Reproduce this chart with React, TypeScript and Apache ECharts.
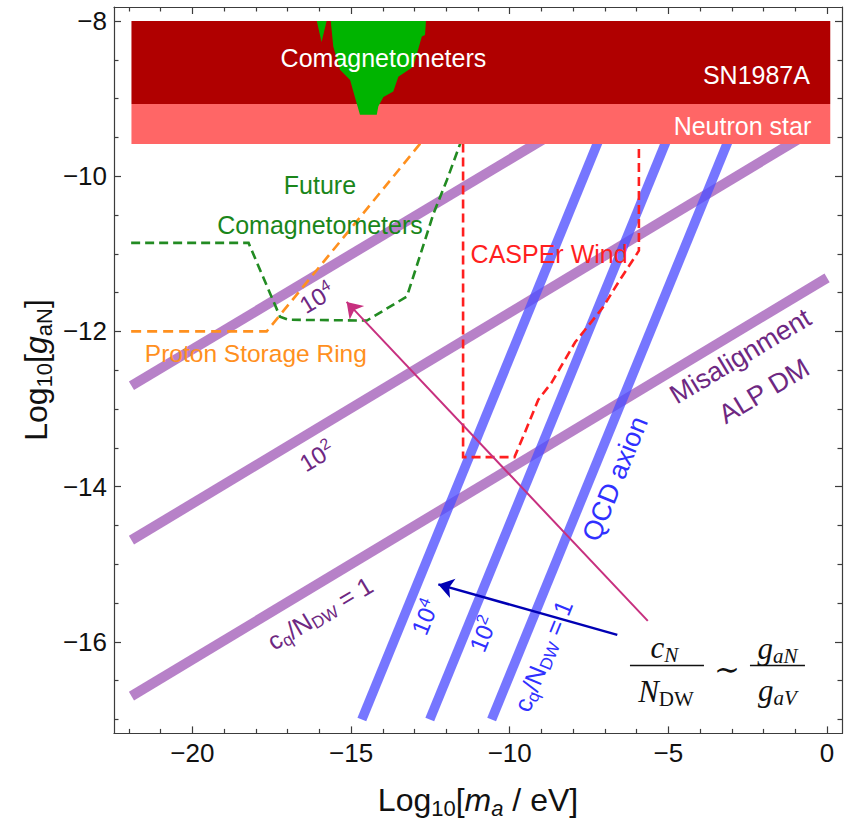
import React, { useEffect, useRef } from 'react';
import * as echarts from 'echarts';

// ---------- axes ----------
const X_MIN = -22.47;
const X_MAX = 0.47;
const Y_MIN = -17.18;
const Y_MAX = -7.82;
const xMajorTicks = [-20, -15, -10, -5, 0];
const xMinorTicks = [-22, -21, -19, -18, -17, -16, -14, -13, -12, -11, -9, -8, -7, -6, -4, -3, -2, -1];
const yMajorTicks = [-16, -14, -12, -10, -8];
const yMinorTicks = [-17, -16.5, -15.5, -15, -14.5, -13.5, -13, -12.5, -11.5, -11, -10.5, -9.5, -9, -8.5];

// ---------- misalignment ALP DM lines (c_q/N_DW = 10^4, 10^2, 1) ----------
const alp4X = [-21.92, -7.0];
const alp4Y = [-12.70, -9.05];
const alp2X = [-21.92, 0.0];
const alp2Y = [-14.69, -9.30];
const alp1X = [-21.92, 0.0];
const alp1Y = [-16.70, -11.31];

// ---------- QCD axion lines (10^4, 10^2, 1) ----------
const qcd4X = [-14.66, -6.66];
const qcd4Y = [-17.0, -9.0];
const qcd2X = [-12.52, -4.52];
const qcd2Y = [-17.0, -9.0];
const qcd1X = [-10.57, -2.57];
const qcd1Y = [-17.0, -9.0];

// ---------- projected sensitivities (dashed) ----------
const futureX = [-21.93, -18.23, -17.24, -16.97, -14.50, -13.24, -12.40, -11.98, -11.56];
const futureY = [-10.86, -10.86, -11.81, -11.85, -11.86, -11.55, -10.48, -10.05, -9.58];
const protonX = [-21.93, -17.66, -12.82];
const protonY = [-12.0, -12.0, -9.58];
const casperX = [-11.47, -11.47, -9.85, -9.53, -9.10, -8.68, -7.94, -7.08, -6.55, -6.07, -5.93, -5.93];
const casperY = [-9.58, -13.62, -13.62, -13.31, -12.88, -12.66, -12.14, -11.70, -11.35, -11.05, -10.96, -9.58];

// ---------- excluded regions ----------
const nsX = [-21.92, 0.1, 0.1, -21.92];
const nsY = [-9.585, -9.585, -9.07, -9.07];
const snX = [-21.92, 0.1, 0.1, -21.92];
const snY = [-9.07, -9.07, -8.0, -8.0];
const comagX = [-16.08, -15.93, -15.77, -15.64, -15.56, -15.35, -15.03, -14.88, -14.72, -14.19, -14.14, -13.98, -13.67, -13.51, -13.04, -12.77, -12.67, -12.64];
const comagY = [-8.0, -8.27, -8.0, -8.0, -8.33, -8.63, -8.76, -8.98, -9.21, -9.21, -9.10, -8.98, -8.91, -8.72, -8.59, -8.20, -8.18, -8.0];

// ---------- arrows ----------
const arrowMagentaX = [-5.65, -15.14];
const arrowMagentaY = [-15.73, -11.62];
const arrowBlueX = [-6.61, -12.25];
const arrowBlueY = [-15.91, -15.26];

// ---------- styles ----------
const SANS = '"Liberation Sans", Arial, Helvetica, sans-serif';
const SERIF = '"Liberation Serif", "DejaVu Serif", "Times New Roman", serif';
const FRAME = '#3c3c3c';
const PURPLE_BAND = '#b781c8';
const PURPLE_TEXT = '#6e2882';
const BLUE_BAND = 'rgba(80,80,255,0.78)';
const BLUE_TEXT = '#3030ff';
const GREEN_DASH = '#228b22';
const GREEN_TEXT = '#1a861a';
const ORANGE = '#ff901e';
const RED = '#ff1f1f';

const zip = (xs: number[], ys: number[]) => xs.map((x, i) => [x, ys[i]]);

function lineSeries(xs: number[], ys: number[], color: string, width: number, z: number, dash?: number[]) {
  return {
    type: 'line',
    data: zip(xs, ys),
    symbol: 'none',
    silent: true,
    z,
    lineStyle: { color, width, cap: 'butt', join: 'miter', type: dash ? dash : 'solid' },
  };
}

function polySeries(xs: number[], ys: number[], color: string, z: number) {
  return {
    type: 'custom',
    silent: true,
    z,
    data: [[xs[0], ys[0]]],
    renderItem: (_p: any, api: any) => ({
      type: 'polygon',
      shape: { points: xs.map((x, i) => api.coord([x, ys[i]])) },
      style: { fill: color, stroke: null },
    }),
  };
}

function arrowSeries(xs: number[], ys: number[], color: string, width: number) {
  return {
    type: 'lines',
    coordinateSystem: 'cartesian2d',
    silent: true,
    z: 9,
    symbol: ['none', 'arrow'],
    symbolSize: 15,
    lineStyle: { color, width, opacity: 1 },
    data: [{ coords: zip(xs, ys) }],
  };
}

const fmt = (v: number) => String(v).replace('-', '\u2212');

function mkX(position: string, ticks: number[], len: number, labels: boolean, line: boolean) {
  return {
    type: 'value', min: X_MIN, max: X_MAX, position,
    axisLine: { show: line, onZero: false, lineStyle: { color: FRAME, width: 1.2 } },
    axisTick: { show: true, inside: true, length: len, customValues: ticks, lineStyle: { color: FRAME, width: 1.2 } },
    axisLabel: labels
      ? { show: true, customValues: ticks, formatter: fmt, fontSize: 26, fontFamily: SANS, color: '#111', margin: 7 }
      : { show: false },
    splitLine: { show: false },
  };
}
function mkY(position: string, ticks: number[], len: number, labels: boolean, line: boolean) {
  return {
    type: 'value', min: Y_MIN, max: Y_MAX, position,
    axisLine: { show: line, onZero: false, lineStyle: { color: FRAME, width: 1.2 } },
    axisTick: { show: true, inside: true, length: len, customValues: ticks, lineStyle: { color: FRAME, width: 1.2 } },
    axisLabel: labels
      ? { show: true, customValues: ticks, formatter: fmt, fontSize: 26, fontFamily: SANS, color: '#111', margin: 7 }
      : { show: false },
    splitLine: { show: false },
  };
}

function richSet(size: number, color: string, family: string) {
  const small = Math.round(size * 0.68);
  const lh = Math.round(size * 1.2);
  const slh = Math.round(small * 0.85);
  return {
    b: { fontSize: size, lineHeight: lh, verticalAlign: 'middle', fill: color, fontFamily: family },
    i: { fontSize: size, lineHeight: lh, verticalAlign: 'middle', fill: color, fontFamily: family, fontStyle: 'italic' },
    sup: { fontSize: small, lineHeight: slh, verticalAlign: 'top', fill: color, fontFamily: family },
    sub: { fontSize: small, lineHeight: slh, verticalAlign: 'bottom', fill: color, fontFamily: family },
    subi: { fontSize: small, lineHeight: slh, verticalAlign: 'bottom', fill: color, fontFamily: family, fontStyle: 'italic' },
  };
}

function textEl(x: number, y: number, text: string, size: number, color: string, rotDeg = 0, align = 'center', family = SANS) {
  return {
    type: 'text', x, y, rotation: (rotDeg * Math.PI) / 180, z: 100, silent: true,
    style: {
      text, fill: color, fontSize: size, fontFamily: family, lineHeight: Math.round(size * 1.2),
      align, verticalAlign: 'middle', textAlign: align, textVerticalAlign: 'middle',
      rich: richSet(size, color, family),
    },
  };
}

const ALP_ROT = 30.9;
const QCD_ROT = 67.8;
const annotations = [
  { text: 'Comagnetometers', at: [-13.98, -8.48], size: 25, color: '#ffffff', rot: 0, align: 'center' },
  { text: 'SN1987A', at: [-0.54, -8.70], size: 25, color: '#ffffff', rot: 0, align: 'right' },
  { text: 'Neutron star', at: [-0.50, -9.35], size: 25, color: '#ffffff', rot: 0, align: 'right' },
  { text: 'Future', at: [-15.98, -10.11], size: 25, color: GREEN_TEXT, rot: 0, align: 'center' },
  { text: 'Comagnetometers', at: [-15.98, -10.63], size: 25, color: GREEN_TEXT, rot: 0, align: 'center' },
  { text: 'Proton Storage Ring', at: [-18.0, -12.28], size: 24.5, color: ORANGE, rot: 0, align: 'center' },
  { text: 'CASPEr Wind', at: [-8.76, -11.0], size: 25, color: RED, rot: 0, align: 'center' },
  { text: '{b|10}{sup|4}', at: [-16.08, -11.57], size: 24, color: PURPLE_TEXT, rot: ALP_ROT, align: 'center' },
  { text: '{b|10}{sup|2}', at: [-16.08, -13.61], size: 24, color: PURPLE_TEXT, rot: ALP_ROT, align: 'center' },
  { text: '{b|c}{sub|q}{b|/N}{sub|DW}{b| = 1}', at: [-15.98, -15.63], size: 25, color: PURPLE_TEXT, rot: ALP_ROT, align: 'center' },
  { text: 'Misalignment', at: [-2.73, -12.32], size: 27, color: PURPLE_TEXT, rot: ALP_ROT, align: 'center' },
  { text: 'ALP DM', at: [-1.99, -12.77], size: 27, color: PURPLE_TEXT, rot: ALP_ROT, align: 'center' },
  { text: 'QCD axion', at: [-6.68, -13.90], size: 27, color: BLUE_TEXT, rot: QCD_ROT, align: 'center' },
  { text: '{b|10}{sup|4}', at: [-12.67, -15.68], size: 24, color: BLUE_TEXT, rot: QCD_ROT, align: 'center' },
  { text: '{b|10}{sup|2}', at: [-10.84, -15.90], size: 24, color: BLUE_TEXT, rot: QCD_ROT, align: 'center' },
  { text: '{b|c}{sub|q}{b|/N}{sub|DW}{b| = 1}', at: [-8.95, -16.18], size: 25, color: BLUE_TEXT, rot: QCD_ROT, align: 'center' },
];
const formulaAnchor = [-3.47, -16.34];

const GRID = { left: 114, top: 7, width: 728, height: 726.4 };

function buildOption() {
  return {
    animation: false,
    backgroundColor: '#ffffff',
    grid: { left: GRID.left, top: GRID.top, width: GRID.width, height: GRID.height, containLabel: false },
    xAxis: [
      mkX('bottom', xMajorTicks, 7, true, true),
      mkX('bottom', xMinorTicks, 4.5, false, false),
      mkX('top', xMajorTicks, 7, false, true),
      mkX('top', xMinorTicks, 4.5, false, false),
    ],
    yAxis: [
      mkY('left', yMajorTicks, 7, true, true),
      mkY('left', yMinorTicks, 4.5, false, false),
      mkY('right', yMajorTicks, 7, false, true),
      mkY('right', yMinorTicks, 4.5, false, false),
    ],
    series: [
      lineSeries(alp4X, alp4Y, PURPLE_BAND, 10, 2),
      lineSeries(alp2X, alp2Y, PURPLE_BAND, 10, 2),
      lineSeries(alp1X, alp1Y, PURPLE_BAND, 10, 2),
      lineSeries(qcd4X, qcd4Y, BLUE_BAND, 9.5, 3),
      lineSeries(qcd2X, qcd2Y, BLUE_BAND, 9.5, 3),
      lineSeries(qcd1X, qcd1Y, BLUE_BAND, 9.5, 3),
      lineSeries(futureX, futureY, GREEN_DASH, 2.6, 4, [9, 5]),
      lineSeries(protonX, protonY, ORANGE, 2.6, 4, [10, 6]),
      lineSeries(casperX, casperY, RED, 2.6, 4, [9, 5]),
      polySeries(nsX, nsY, '#ff6666', 5),
      polySeries(snX, snY, '#b00000', 6),
      polySeries(comagX, comagY, '#00b400', 7),
      arrowSeries(arrowMagentaX, arrowMagentaY, '#c7307f', 2),
      arrowSeries(arrowBlueX, arrowBlueY, '#0000b4', 2.5),
    ],
  };
}

function buildGraphics(chart: any) {
  const toPx = (p: number[]) => chart.convertToPixel({ seriesIndex: 0 }, p) as number[];
  const els: any[] = [];
  annotations.forEach((a) => {
    const p = toPx(a.at);
    els.push(textEl(p[0], p[1], a.text, a.size, a.color, a.rot, a.align));
  });
  // axis titles
  els.push(textEl(GRID.left + GRID.width / 2, 800, '{b|Log}{sub|10}{b|[}{i|m}{subi|a}{b| / eV]}', 32, '#111'));
  els.push(textEl(36, 370, '{b|Log}{sub|10}{b|[}{i|g}{sub|aN}{b|]}', 32, '#111', 90));
  // formula c_N / N_DW ~ g_aN / g_aV
  const f = toPx(formulaAnchor);
  const fx = f[0];
  const fy = f[1];
  els.push(textEl(fx - 52.6, fy - 21, '{i|c}{subi|N}', 31, '#111', 0, 'center', SERIF));
  els.push(textEl(fx - 51, fy + 23, '{i|N}{sub|DW}', 31, '#111', 0, 'center', SERIF));
  els.push(textEl(fx + 10, fy + 1, '{b|\u223C}', 31, '#111', 0, 'center', SERIF));
  els.push(textEl(fx + 60.5, fy - 20, '{i|g}{subi|aN}', 31, '#111', 0, 'center', SERIF));
  els.push(textEl(fx + 60.5, fy + 22, '{i|g}{subi|aV}', 31, '#111', 0, 'center', SERIF));
  els.push({ type: 'line', z: 100, silent: true, shape: { x1: fx - 87, y1: fy - 2.6, x2: fx - 13, y2: fy - 2.6 }, style: { stroke: '#111', lineWidth: 1.5 } });
  els.push({ type: 'line', z: 100, silent: true, shape: { x1: fx + 33, y1: fy - 2.6, x2: fx + 88, y2: fy - 2.6 }, style: { stroke: '#111', lineWidth: 1.5 } });
  return els;
}

export default function App() {
  const ref = useRef<HTMLDivElement>(null);
  useEffect(() => {
    if (!ref.current) return;
    const chart = echarts.init(ref.current, null, { renderer: 'svg' });
    chart.setOption(buildOption() as any);
    chart.setOption({ graphic: buildGraphics(chart) } as any);
    return () => chart.dispose();
  }, []);
  return (
    <div
      ref={ref}
      style={{ position: 'absolute', left: 0, top: 0, width: 849, height: 821, background: '#ffffff' }}
    />
  );
}
